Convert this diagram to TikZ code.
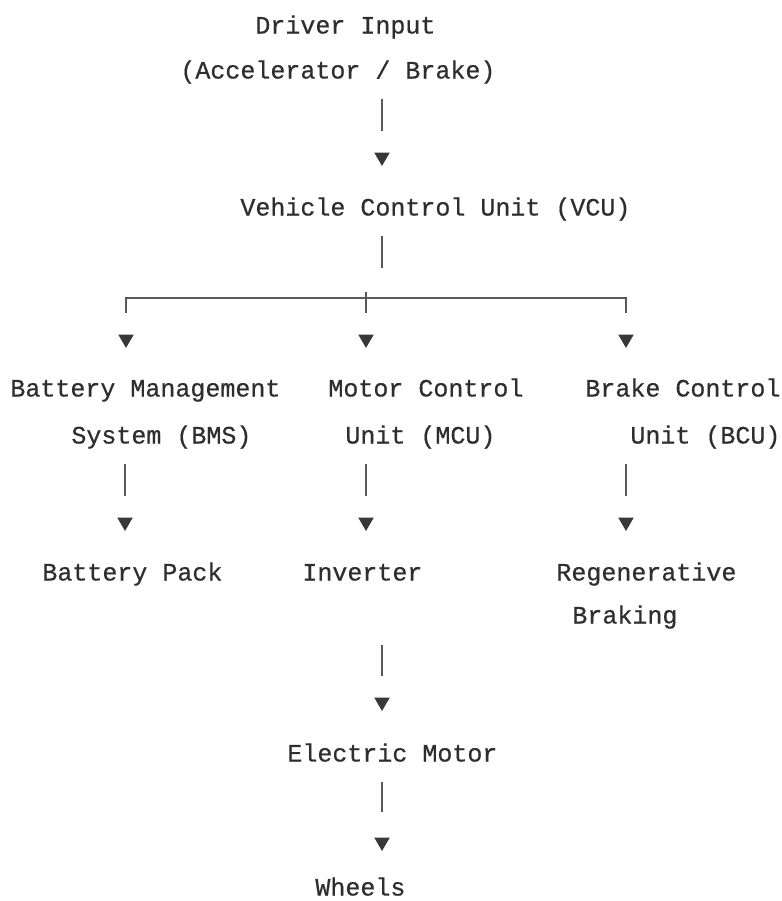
\documentclass[tikz,border=0pt]{standalone}
\usepackage{fontspec}
\setmonofont[FakeBold=0.6]{Liberation Mono}
\usetikzlibrary{shapes.geometric}

\tikzset{
  lbl/.style = {font=\ttfamily\fontsize{12.5}{15}\selectfont, text=black!82, inner sep=0pt, text height=8.5pt, text depth=0pt, anchor=west},
  tip/.style = {regular polygon, regular polygon sides=3, shape border rotate=180, fill=black!78, inner sep=0pt, minimum size=9pt},
  stem/.style = {draw=black!65, line width=0.65pt, shorten <=10pt, shorten >=10.8pt}
}

\begin{document}
\begin{tikzpicture}[x=0.5pt,y=-0.5pt]
\useasboundingbox (0,0) rectangle (782,901);
\node[lbl] (driver) at (255,25) {Driver Input}; \node[lbl] (pedal) at (180,70) {(Accelerator / Brake)};
\node[lbl] (vcu) at (240,207) {Vehicle Control Unit (VCU)};
\node[lbl] (bms) at (10,388) {Battery Management}; \node[lbl] (bms2) at (71,435) {System (BMS)};
\node[lbl] (mcu) at (328,388) {Motor Control}; \node[lbl] (mcu2) at (345,435) {Unit (MCU)};
\node[lbl] (bcu) at (585,388) {Brake Control}; \node[lbl] (bcu2) at (630,435) {Unit (BCU)};
\node[lbl] (pack) at (42,572) {Battery Pack}; \node[lbl] (inv) at (302,572) {Inverter};
\node[lbl] (regen) at (556,572) {Regenerative}; \node[lbl] (regen2) at (572,615) {Braking};
\node[lbl] (motor) at (287,753) {Electric Motor};
\node[lbl] (wheels) at (315,887) {Wheels};

\node[tip] (t1) at (382,157) {};
\node[tip] (tb1) at (126,339) {}; \node[tip] (tb2) at (366,339) {}; \node[tip] (tb3) at (626,339) {};
\node[tip] (tc1) at (125,522) {}; \node[tip] (tc2) at (366,522) {}; \node[tip] (tc3) at (626,522) {};
\node[tip] (t4) at (382,702) {}; \node[tip] (t5) at (382,842) {};
\coordinate (split) at (382,268); \coordinate (hub) at (366,298);

\draw[stem] (t1 |- pedal.south) -- (t1);
\draw[stem, shorten >=0pt] (split |- vcu.south) -- (split);
\draw[stem, shorten <=10.5pt, shorten >=10.5pt] (tb1) |- (hub) -| (tb3);
\draw[stem, shorten <=0pt, shorten >=10.5pt] ([yshift=3pt]hub) -- (tb2);
\draw[stem] (tc1 |- bms2.south) -- (tc1); \draw[stem] (tc2 |- mcu2.south) -- (tc2); \draw[stem] (tc3 |- bcu2.south) -- (tc3);
\draw[stem, shorten <=32pt] (t4 |- inv.south) -- (t4);
\draw[stem, shorten >=12.5pt] (t5 |- motor.south) -- (t5);
\end{tikzpicture}
\end{document}
